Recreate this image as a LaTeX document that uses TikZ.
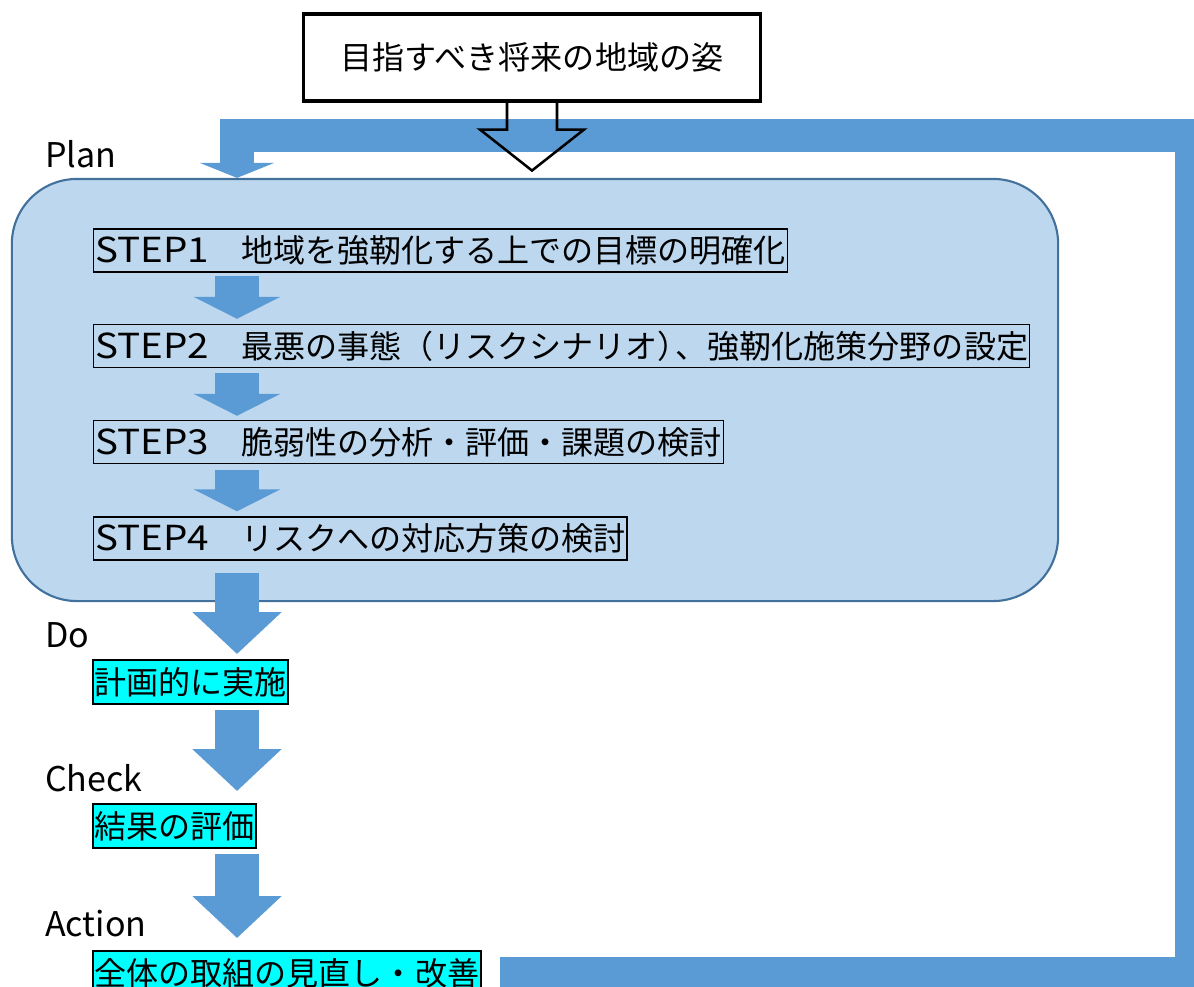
\documentclass[tikz,border=0pt]{standalone}
\usepackage{fontspec}
\newfontfamily\jpfont{Noto Sans CJK JP}
\newfontfamily\steplatin[FakeStretch=1.12]{Noto Sans CJK JP}
\newcommand{\stepno}[1]{{\steplatin\fontsize{24.5pt}{27pt}\selectfont STEP#1}}
\usetikzlibrary{arrows.meta,calc}
\definecolor{flowblue}{HTML}{5B9BD5}
\definecolor{planfill}{HTML}{BDD7EE}
\definecolor{planedge}{HTML}{41719C}
\definecolor{actfill}{RGB}{0,255,255}
\tikzset{
  jp/.style={font=\jpfont\fontsize{22.8pt}{27pt}\selectfont},
  goalbox/.style={jp, draw, line width=2.2pt, minimum width=11.4cm, minimum height=2.175cm, inner sep=0pt},
  stepbox/.style={jp, draw, line width=1pt, anchor=west, minimum height=1.075cm, inner xsep=1pt, inner ysep=0pt},
  actbox/.style={jp, draw, fill=actfill, line width=1.4pt, anchor=west, minimum height=1.1cm, inner xsep=1pt, inner ysep=0pt},
  phase/.style={font=\jpfont\fontsize{24.2pt}{27pt}\selectfont, anchor=base west, inner sep=0pt},
  smallarrow/.style={flowblue, line width=1.1cm, -{Triangle[width=2.15cm,length=0.55cm]}},
  bigarrow/.style={flowblue, line width=1.1cm, -{Triangle[width=2.175cm,length=1.05cm]}},
  hollowarrow/.style={line width=1.8pt, line join=miter},
  loopband/.style={flowblue, line width=0.825cm, line join=miter, -{Triangle[width=1.85cm,length=0.375cm]}}
}
\begin{document}
\begin{tikzpicture}[x=0.025cm, y=-0.025cm]
\useasboundingbox (0,0) rectangle (1194,986);
% Plan area
\node at (535,390) [draw=planedge, fill=planfill, line width=1.5pt, rounded corners=1.625cm, minimum width=26.15cm, minimum height=10.55cm] (plan) {};
\node at (532,57.5) [goalbox] (goal) {目指すべき将来の地域の姿};
\node at (93,250.5) [stepbox] (step1) {\stepno{1}　地域を強靭化する上での目標の明確化};
\node at (93,346) [stepbox] (step2) {\stepno{2}　最悪の事態（リスクシナリオ）\kern-0.45em、強靭化施策分野の設定};
\node at (93,442) [stepbox] (step3) {\stepno{3}　脆弱性の分析・評価・課題の検討};
\node at (93,538.5) [stepbox] (step4) {\stepno{4}　リスクへの対応方策の検討};
% Do, Check, Action
\node at (92,682) [actbox] (do) {計画的に実施};
\node at (92,826) [actbox] (check) {結果の評価};
\node at (92,973) [actbox] (act) {全体の取組の見直し・改善};
\node at (45,167) [phase] (planLabel) {Plan};
\node at (45,647) [phase] (doLabel) {Do};
\node at (45,791) [phase] (checkLabel) {Check};
\node at (45,936) [phase] (actLabel) {Action};
\coordinate (col) at (237,0);
\draw [smallarrow] ($(step1.south -| col)+(0,3)$) -- ($(step2.north -| col)+(0,-5)$);
\draw [smallarrow] ($(step2.south -| col)+(0,5)$) -- ($(step3.north -| col)+(0,-4)$);
\draw [smallarrow] ($(step3.south -| col)+(0,6)$) -- ($(step4.north -| col)+(0,-5)$);
\draw [bigarrow] ($(step4.south -| col)+(0,12)$) -- ($(do.north -| col)+(0,-5)$);
\draw [bigarrow] ($(do.south -| col)+(0,5)$) -- ($(check.north -| col)+(0,-12)$);
\draw [bigarrow] ($(check.south -| col)+(0,5)$) -- ($(act.north -| col)+(0,-12)$);
% feedback loop
\draw [loopband] ($(act.east)+(18.5,0)$) -| (1191.5,135.5) -| (col |- plan.north);
\draw [hollowarrow] ([xshift=-0.625cm]goal.south) -- ++(0,27) -- ++(-27,0) -- ++(52,41) -- ++(52,-41) -- ++(-27,0) -- ++(0,-27);
\end{tikzpicture}
\end{document}
